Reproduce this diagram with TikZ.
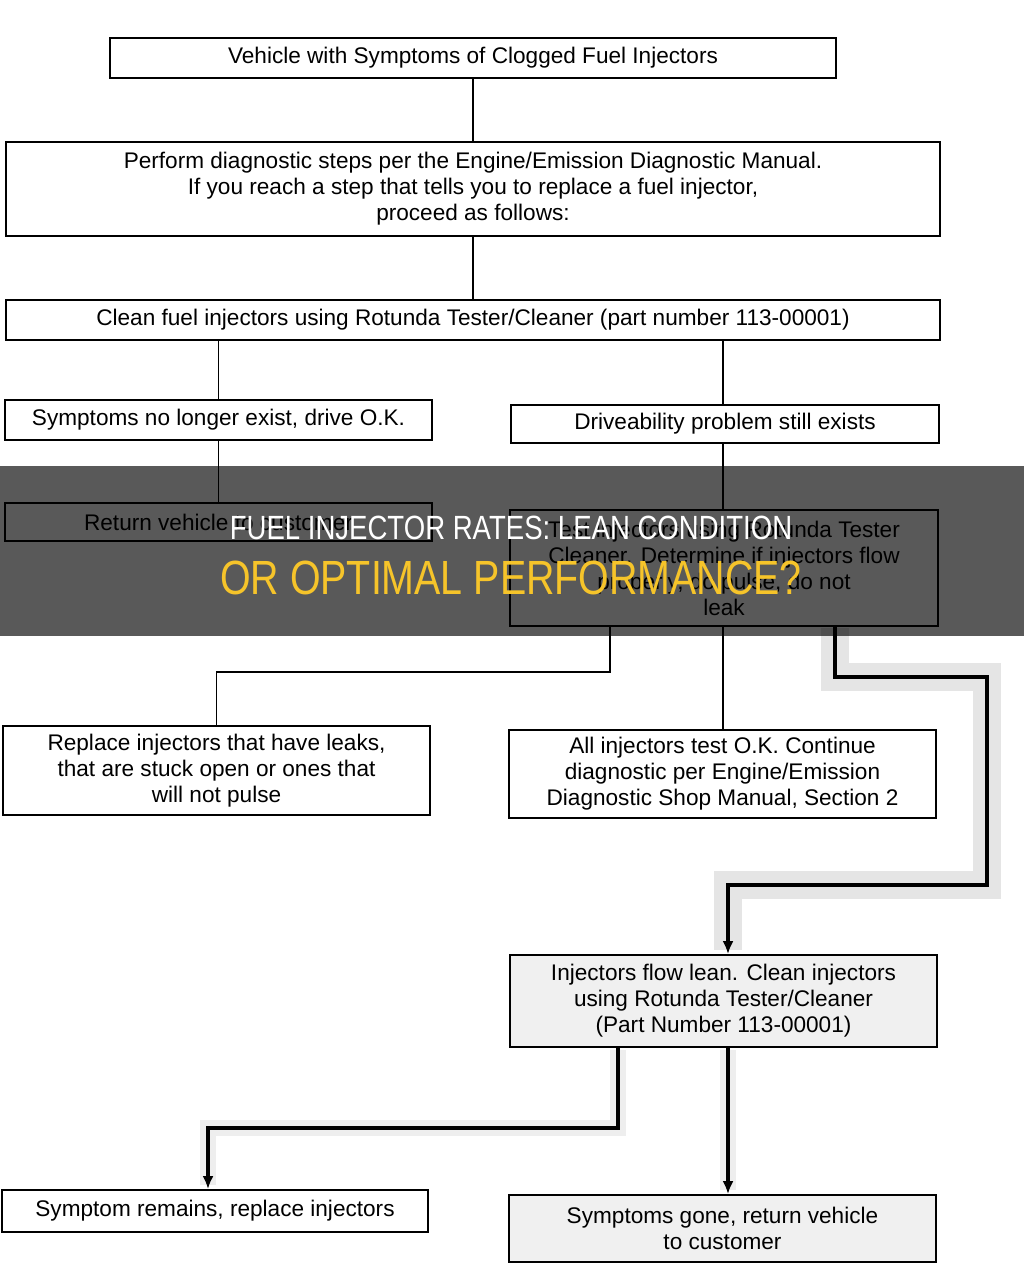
\documentclass[tikz,border=0pt]{standalone}
\usepackage{fontspec}
\setmainfont{Liberation Sans}
\newfontfamily\titlefont[FakeStretch=0.82]{Liberation Sans}
\usetikzlibrary{arrows.meta}
\definecolor{titleyellow}{RGB}{246,196,42}

\begin{document}
\begin{tikzpicture}[x=0.5pt,y=-0.5pt,
	box/.style={draw,line width=0.9pt,align=center,inner sep=0pt,font=\fontsize{11.3}{13}\selectfont},
	shaded/.style={box,fill=gray!12},
	link/.style={line width=0.7pt},
	thick link/.style={line width=1.6pt,-{Latex[length=6.5pt,width=5.5pt]}},
	halo/.style={line width=14pt,gray!20},
	small halo/.style={line width=8pt,gray!13}]
	\useasboundingbox (0,0) rectangle (1024,1265);

	% stippled halos behind the lean path
	\draw[halo] (835,628) -- (835,677) -- (987,677) -- (987,885) -- (728,885) -- (728,950);
	\draw[small halo] (618,1050) -- (618,1128) -- (208,1128) -- (208,1185);
	\draw[small halo] (728,1050) -- (728,1190);

	% boxes
	\node[box,minimum width=363pt,minimum height=20pt] (vehicle) at (473,58) {Vehicle with Symptoms of Clogged Fuel Injectors};
	\node[box,minimum width=467pt,minimum height=47pt] (perform) at (473,189) {Perform diagnostic steps per the Engine/Emission Diagnostic Manual.\\If you reach a step that tells you to replace a fuel injector,\\proceed as follows:};
	\node[box,minimum width=467pt,minimum height=20pt] (clean) at (473,320) {Clean fuel injectors using Rotunda Tester/Cleaner (part number 113-00001)};
	\node[box,minimum width=213.5pt,minimum height=20pt] (gone1) at (218.5,420) {Symptoms no longer exist, drive O.K.};
	\node[box,minimum width=214pt,minimum height=19pt] (still) at (725,424) {Driveability problem still exists};
	\node[box,minimum width=213.5pt,minimum height=19pt] (return1) at (218.5,522) {Return vehicle to customer};
	\node[box,minimum width=214pt,minimum height=58pt] (test) at (724,568) {Test injectors using Rotunda Tester\\Cleaner. Determine if injectors flow\\properly, do pulse, do not\\leak};
	\node[box,minimum width=213.5pt,minimum height=44.5pt] (replace) at (216.5,770.5) {Replace injectors that have leaks,\\that are stuck open or ones that\\will not pulse};
	\node[box,minimum width=213.5pt,minimum height=44pt] (allok) at (722.5,774) {All injectors test O.K. Continue\\diagnostic per Engine/Emission\\Diagnostic Shop Manual, Section 2};
	\node[shaded,minimum width=213.5pt,minimum height=46pt] (lean) at (723.5,1001) {Injectors flow lean. Clean injectors\\using Rotunda Tester/Cleaner\\(Part Number 113-00001)};
	\node[box,minimum width=213pt,minimum height=21pt] (remains) at (215,1211) {Symptom remains, replace injectors};
	\node[shaded,minimum width=213.5pt,minimum height=33.5pt] (gone2) at (722.5,1228.5) {Symptoms gone, return vehicle\\to customer};

	\coordinate (c1) at (610,672);
	\coordinate (c2) at (835,677);
	\coordinate (c3) at (987,885);
	\coordinate (c4) at (618,1128);

	% connectors
	\draw[link] (vehicle) -- (perform);
	\draw[link] (perform) -- (clean);
	\draw[link] (gone1.north |- clean.south) -- (gone1.north);
	\draw[link] (still.north -| 723,0) -- (723,340);
	\draw[link] (gone1) -- (return1);
	\draw[link] (still.south -| 723,0) -- (test.north -| 723,0);
	\draw[link] (test.south -| c1) -- (c1) -- (c1 -| replace.north) -- (replace.north);
	\draw[link] (test.south -| 723,0) -- (allok.north -| 723,0);
	\draw[thick link] (test.south -| c2) -- (c2) -- (c2 -| c3) -- (c3) -- (c3 -| 728,0) -- (lean.north -| 728,0);
	\draw[thick link] (lean.south -| c4) -- (c4) -- (c4 -| 208,0) -- (remains.north -| 208,0);
	\draw[thick link] (lean.south -| 728,0) -- (gone2.north -| 728,0);

	% title band
	\fill[black,opacity=0.65] (0,466) rectangle (1024,636);
	\node[text=white,font=\titlefont\fontsize{16.8}{20}\selectfont,inner sep=0pt] (title1) at (511,528) {FUEL INJECTOR RATES: LEAN CONDITION};
	\node[text=titleyellow,font=\titlefont\fontsize{24}{26}\selectfont,inner sep=0pt] (title2) at (511,578) {OR OPTIMAL PERFORMANCE?};
\end{tikzpicture}
\end{document}
